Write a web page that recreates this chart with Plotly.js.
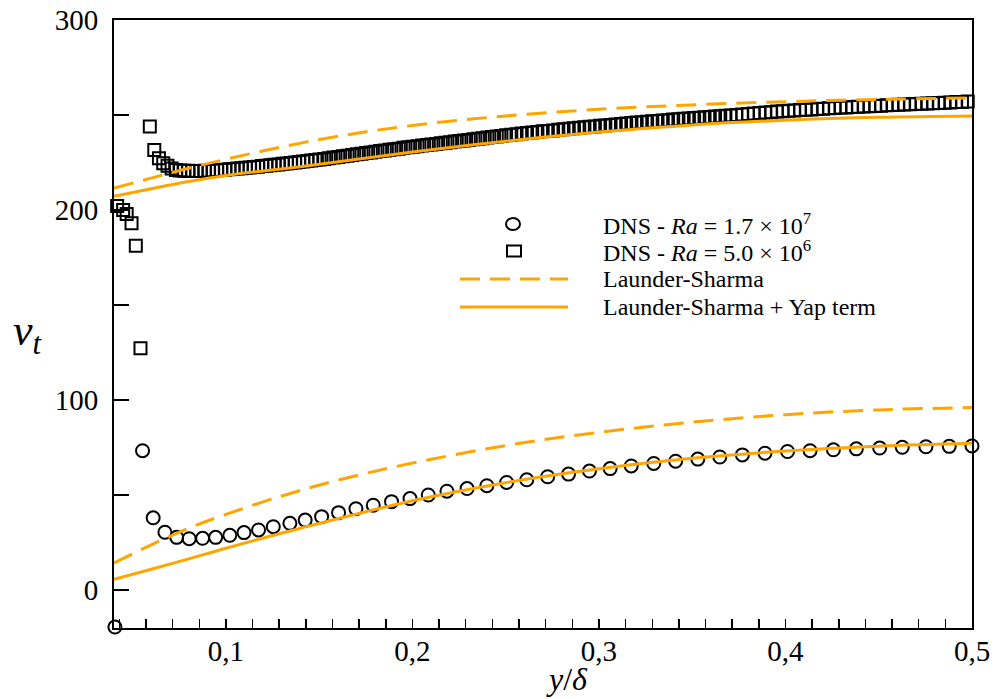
<!DOCTYPE html>
<html><head><meta charset="utf-8">
<script src="https://cdn.plot.ly/plotly-3.0.1.min.js"></script>
<style>html,body{margin:0;padding:0;background:#fff}</style>
</head><body><div id="chart" style="width:997px;height:699px"></div>
<script>
// DNS Ra = 1.7e7 (circles)
const circX = [0.0405,0.0553,0.0610,0.0673,0.0736,0.0803,0.0875,0.0945,0.1021,0.1097,0.1175,0.1254,0.1343,0.1425,0.1513,0.1604,0.1697,0.1790,0.1888,0.1987,0.2085,0.2185,0.2293,0.2399,0.2505,0.2613,0.2725,0.2837,0.2949,0.3060,0.3173,0.3294,0.3411,0.3530,0.3648,0.3769,0.3890,0.4011,0.4132,0.4257,0.4380,0.4505,0.4626,0.4753,0.4878,0.5000];
const circY = [-19.5,73.3,38.0,30.4,27.7,27.0,27.2,27.7,28.8,30.2,31.6,33.3,35.1,36.8,38.6,40.7,42.8,44.6,46.5,48.1,50.0,52.0,53.4,54.9,56.6,58.0,59.6,61.0,62.6,63.9,65.3,66.6,67.8,68.9,70.0,71.1,72.0,72.9,73.3,73.8,74.3,74.7,75.1,75.4,75.6,75.8];

// DNS Ra = 5.0e6 (squares)
const sqX = [0.0417,0.0449,0.0468,0.0494,0.0517,0.0542,0.0592,0.0616,0.0641,0.0664,0.0687,0.0709,
0.0732,0.0754,0.0776,0.0798,0.0820,0.0842,0.0864,0.0886,0.0908,0.0930,0.0952,0.0974,0.0996,0.1018,0.1040,0.1062,0.1084,0.1106,0.1128,0.1150,0.1172,0.1194,0.1216,0.1238,0.1260,0.1282,0.1304,0.1326,0.1348,0.1370,0.1392,0.1414,0.1436,0.1458,0.1480,0.1502,
0.1527,0.1552,0.1577,0.1602,0.1627,0.1652,0.1677,0.1702,0.1727,0.1752,0.1777,0.1802,0.1827,0.1852,0.1877,0.1902,0.1927,0.1952,0.1977,0.2002,0.2027,0.2052,0.2077,0.2102,0.2127,0.2152,0.2177,0.2202,0.2227,0.2252,0.2277,0.2302,0.2327,0.2352,0.2377,0.2402,0.2427,0.2452,0.2477,0.2502,
0.2530,0.2558,0.2586,0.2614,0.2642,0.2670,0.2698,0.2726,0.2754,0.2782,0.2810,0.2838,0.2866,0.2894,0.2922,0.2950,0.2978,0.3006,0.3034,0.3062,0.3090,0.3118,0.3146,0.3174,0.3202,0.3230,0.3258,0.3286,0.3314,0.3342,0.3370,0.3398,0.3426,0.3454,0.3482,0.3510,0.3538,0.3566,0.3594,0.3622,0.3650,0.3678,0.3706,
0.3737,0.3768,0.3799,0.3830,0.3861,0.3892,0.3923,0.3954,0.3985,0.4016,0.4047,0.4078,0.4109,0.4140,0.4171,0.4202,0.4233,0.4264,0.4295,0.4326,0.4357,0.4388,0.4419,0.4450,0.4481,0.4512,0.4543,0.4574,0.4605,0.4636,0.4667,0.4698,0.4729,0.4760,0.4791,0.4822,0.4853,0.4884,0.4915,0.4946,0.4977,0.5008];
const sqY = [202.1,200.0,197.9,193.0,181.2,127.2,243.9,231.6,227.2,224.6,223.3,221.9,
221.0,220.8,220.7,220.6,220.5,220.5,220.5,220.6,220.7,220.8,220.9,221.0,221.2,221.4,221.6,221.8,222.0,222.2,222.4,222.6,222.8,223.1,223.3,223.5,223.8,224.0,224.3,224.5,224.8,225.0,225.3,225.5,225.8,226.0,226.3,226.6,
226.9,227.2,227.6,227.9,228.3,228.6,229.0,229.3,229.6,230.0,230.3,230.7,231.0,231.3,231.7,232.0,232.3,232.7,233.0,233.3,233.6,233.9,234.2,234.5,234.8,235.1,235.4,235.7,236.0,236.3,236.6,236.9,237.2,237.5,237.8,238.1,238.4,238.7,239.0,239.3,
239.6,239.9,240.2,240.5,240.8,241.1,241.4,241.6,241.9,242.2,242.5,242.7,243.0,243.3,243.5,243.8,244.0,244.3,244.5,244.8,245.0,245.3,245.5,245.8,246.0,246.2,246.5,246.7,246.9,247.1,247.3,247.6,247.8,248.0,248.2,248.4,248.6,248.8,249.0,249.2,249.4,249.6,249.8,
250.0,250.3,250.5,250.8,251.0,251.3,251.5,251.8,252.0,252.2,252.4,252.6,252.8,252.9,253.1,253.3,253.5,253.7,253.9,254.0,254.2,254.3,254.5,254.6,254.8,254.9,255.1,255.2,255.4,255.5,255.6,255.8,255.9,256.0,256.2,256.3,256.5,256.6,256.8,256.9,257.1,257.2];

// Model curves
const lsX = [0.04,0.06,0.08,0.10,0.13,0.16,0.20,0.25,0.30,0.35,0.40,0.45,0.50];
const lsLowY = [14.2,23.8,32.5,39.8,49.5,57.8,66.8,76.0,83.0,88.3,92.3,94.8,96.0];
const lsHighY = [211.5,216.8,222.0,226.7,233.2,238.8,244.5,249.5,253.0,255.3,257.0,258.2,259.0];
const yapX = [0.04,0.06,0.08,0.10,0.14,0.20,0.25,0.30,0.35,0.40,0.45,0.50];
const yapLowY = [5.6,10.9,16.4,22.0,32.5,47.0,56.5,63.8,69.3,73.2,75.7,77.2];
const yapHighY = [207.2,211.2,215.0,218.2,222.8,230.5,236.2,241.0,244.8,247.3,248.8,249.5];

const legendLabels = ['DNS - <i>Ra</i> = 1.7 × 10<sup>7</sup>','DNS - <i>Ra</i> = 5.0 × 10<sup>6</sup>','Launder-Sharma','Launder-Sharma + Yap term'];

const ORANGE = '#FFA500';
const serif = 'Liberation Serif, Times New Roman, serif';
const dashPat = '20px,10px';

const traces = [
  {x: circX, y: circY, mode: 'markers', type: 'scatter', cliponaxis: false, name: legendLabels[0],
   marker: {symbol: 'circle-open', size: 13, color: '#000', line: {width: 2, color: '#000'}}},
  {x: sqX, y: sqY, mode: 'markers', type: 'scatter', cliponaxis: false, name: legendLabels[1],
   marker: {symbol: 'square-open', size: 12, color: '#000', line: {width: 2, color: '#000'}}},
  {x: lsX, y: lsLowY, mode: 'lines', type: 'scatter', name: legendLabels[2],
   line: {color: ORANGE, width: 3, dash: dashPat, shape: 'spline'}},
  {x: lsX, y: lsHighY, mode: 'lines', type: 'scatter', name: legendLabels[2],
   line: {color: ORANGE, width: 3, dash: dashPat, shape: 'spline'}},
  {x: yapX, y: yapLowY, mode: 'lines', type: 'scatter', name: legendLabels[3],
   line: {color: ORANGE, width: 3, shape: 'spline'}},
  {x: yapX, y: yapHighY, mode: 'lines', type: 'scatter', name: legendLabels[3],
   line: {color: ORANGE, width: 3, shape: 'spline'}}
];

const L = 114, R = 972, T = 20, B = 628;
const px2x = p => (p - L) / (R - L);
const px2y = p => (B - p) / (B - T);

const legRows = [224, 251, 279, 307];
const shapes = [
  {type: 'circle', xref: 'paper', yref: 'paper', xsizemode: 'pixel', ysizemode: 'pixel',
   xanchor: px2x(513), yanchor: px2y(legRows[0]), x0: -7, x1: 7, y0: -6, y1: 6, line: {color: '#000', width: 2}},
  {type: 'rect', xref: 'paper', yref: 'paper', xsizemode: 'pixel', ysizemode: 'pixel',
   xanchor: px2x(514), yanchor: px2y(legRows[1]), x0: -7, x1: 7, y0: -5.5, y1: 5.5, line: {color: '#000', width: 2}},
  {type: 'line', xref: 'paper', yref: 'paper', x0: px2x(460), x1: px2x(568), y0: px2y(legRows[2]), y1: px2y(legRows[2]),
   line: {color: ORANGE, width: 3, dash: dashPat}},
  {type: 'line', xref: 'paper', yref: 'paper', x0: px2x(460), x1: px2x(568), y0: px2y(legRows[3]), y1: px2y(legRows[3]),
   line: {color: ORANGE, width: 3}}
];

const annotations = legendLabels.map((t, i) => ({
  text: t, xref: 'paper', yref: 'paper', x: px2x(601), y: px2y(legRows[i]),
  xanchor: 'left', yanchor: 'middle', showarrow: false,
  font: {family: serif, size: 24, color: '#000'}
}));
annotations.push({text: '<i>ν</i><sub><i>t</i></sub>', xref: 'paper', yref: 'paper', x: px2x(28), y: px2y(333),
  xanchor: 'center', yanchor: 'middle', showarrow: false, font: {family: serif, size: 44, color: '#000'}});
annotations.push({text: '<i>y</i>/<i>δ</i>', xref: 'paper', yref: 'paper', x: px2x(567), y: px2y(679),
  xanchor: 'center', yanchor: 'middle', showarrow: false, font: {family: serif, size: 32, color: '#000'}});

const layout = {
  width: 997, height: 699,
  margin: {l: L, r: 997 - R, t: T, b: 699 - B},
  paper_bgcolor: '#fff', plot_bgcolor: '#fff',
  separators: ', ',
  showlegend: false,
  font: {family: serif, color: '#000'},
  xaxis: {
    range: [0.04, 0.5], showgrid: false, zeroline: false,
    showline: true, linecolor: '#000', linewidth: 2, mirror: true,
    ticks: 'inside', ticklen: 9, tickwidth: 1.5, tickcolor: '#000',
    tick0: 0.1, dtick: 0.1, tickformat: '.1f', ticklabelstandoff: -4,
    tickfont: {family: serif, size: 29, color: '#000'},
    minor: {ticks: 'inside', ticklen: 9, tickwidth: 1.5, tickcolor: '#000', tick0: 0.1, dtick: 0.1/7, showgrid: false}
  },
  yaxis: {
    range: [-20, 300], showgrid: false, zeroline: false,
    showline: true, linecolor: '#000', linewidth: 2, mirror: true,
    ticks: 'inside', ticklen: 15, tickwidth: 1.5, tickcolor: '#000',
    tick0: 0, dtick: 100, ticklabelstandoff: 8,
    tickfont: {family: serif, size: 29, color: '#000'},
    minor: {ticks: 'inside', ticklen: 15, tickwidth: 1.5, tickcolor: '#000', tick0: 0, dtick: 50, showgrid: false}
  },
  shapes: shapes,
  annotations: annotations
};

Plotly.newPlot('chart', traces, layout, {displayModeBar: false, staticPlot: true});
</script>
</body></html>
